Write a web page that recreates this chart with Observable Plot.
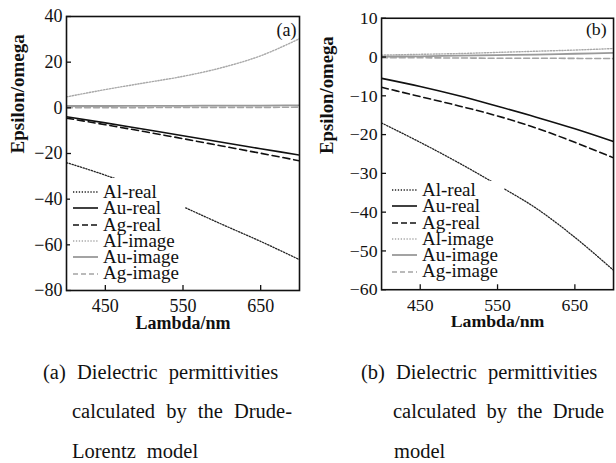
<!DOCTYPE html>
<html>
<head>
<meta charset="utf-8">
<script src="https://cdn.jsdelivr.net/npm/d3@7"></script>
<script src="https://cdn.jsdelivr.net/npm/@observablehq/plot@0.6"></script>
<style>
  html, body { margin: 0; padding: 0; background: #fff; }
  #root { position: relative; width: 616px; height: 463px; overflow: hidden; }
  .panel { position: absolute; top: 0; }
  .legend { position: absolute; background: #fff; font-size: 19px; line-height: 16.3px; color: #111; }
  .legend .row { display: flex; align-items: center; height: 16.3px; white-space: nowrap; }
  .legend svg { flex: none; margin-right: 5px; }
  .cap { position: absolute; font-size: 20.5px; line-height: 20.5px; white-space: nowrap; word-spacing: 6px; color: #111; }
</style>
</head>
<body>
<div id="root"></div>
<script>
// ---- data ----
const lambda = [400, 450, 500, 550, 600, 650, 700];
const xTicks = [450, 550, 650];
const yTicksA = [40, 20, 0, -20, -40, -60, -80];
const yTicksB = [10, 0, -10, -20, -30, -40, -50, -60];
const seriesNames = ["Al-real", "Au-real", "Ag-real", "Al-image", "Au-image", "Ag-image"];

// (a) Drude-Lorentz model
const aAlReal  = [-24, -29.5, -35.8, -43.3, -51, -58.5, -66.5];
const aAuReal  = [-3.9, -6.6, -9.4, -12.2, -15.1, -17.9, -20.7];
const aAgReal  = [-4.5, -7.4, -10.4, -13.5, -16.7, -19.9, -23.2];
const aAlImage = [4.8, 8.0, 10.9, 13.8, 17.6, 22.8, 30.3];
const aAuImage = [0.8, 0.8, 0.9, 0.9, 1.0, 1.0, 1.1];
const aAgImage = [0.1, 0.1, 0.1, 0.2, 0.2, 0.2, 0.3];

// (b) Drude model
const bAlReal  = [-17, -22, -27.3, -33, -39, -46.5, -55];
const bAuReal  = [-5.5, -7.6, -10, -12.7, -15.5, -18.5, -21.8];
const bAgReal  = [-7.8, -10.2, -12.6, -15.2, -18.3, -22, -26];
const bAlImage = [0.5, 0.7, 0.9, 1.2, 1.5, 1.8, 2.2];
const bAuImage = [0.1, 0.2, 0.35, 0.5, 0.65, 0.85, 1.05];
const bAgImage = [-0.2, -0.2, -0.25, -0.3, -0.3, -0.35, -0.4];

// ---- styles ----
const styles = [
  {stroke: "#222", dash: "1.3,1.6", width: 1.3, ldash: "1.3,1.6"},
  {stroke: "#111", dash: null, width: 1.6, ldash: null},
  {stroke: "#111", dash: "7,4", width: 1.6, ldash: "6,3"},
  {stroke: "#a8a8a8", dash: "1.3,1.6", width: 1.4, ldash: "1.3,1.6"},
  {stroke: "#999", dash: null, width: 1.8, ldash: null},
  {stroke: "#a4a4a4", dash: "6,3", width: 1.6, ldash: "5,3"}
];

// pick an installed Times-like serif font
function pickSerif() {
  const cands = ["Liberation Serif", "Tinos", "Times New Roman", "Times", "Nimbus Roman", "Nimbus Roman No9 L", "FreeSerif", "Noto Serif", "DejaVu Serif"];
  const ctx = document.createElement("canvas").getContext("2d");
  const probe = "mmmmmmmmmmwwwwwlliIIQ@#12345";
  for (const f of cands) {
    let found = false;
    for (const base of ["monospace", "sans-serif"]) {
      ctx.font = `40px ${base}`;
      const w0 = ctx.measureText(probe).width;
      ctx.font = `40px "${f}", ${base}`;
      const w1 = ctx.measureText(probe).width;
      if (Math.abs(w1 - w0) > 0.5) { found = true; break; }
    }
    if (found) return `"${f}", serif`;
  }
  return "serif";
}
const font = pickSerif();
const root = document.getElementById("root");
root.style.fontFamily = font;

function panel(opts) {
  const {left, width, height, ml, mr, mt, mb, yDomain, yTicks, series, tag, tagDx, tagDy} = opts;
  const innerW = width - ml - mr;
  const innerH = height - mt - mb;
  const marks = [];
  series.forEach((vals, i) => {
    const s = styles[i];
    marks.push(Plot.line(lambda.map((l, j) => [l, vals[j]]), {
      curve: "monotone-x", stroke: s.stroke, strokeWidth: s.width,
      strokeDasharray: s.dash, clip: true
    }));
  });
  marks.push(
    Plot.tickY(yTicks, {y: d => d, insetRight: innerW - 5, stroke: "#111", strokeWidth: 1.3}),
    Plot.tickX(xTicks, {x: d => d, insetTop: innerH - 5, stroke: "#111", strokeWidth: 1.3}),
    Plot.axisY(yTicks, {anchor: "left", tickSize: 0, tickPadding: 4, label: null, tickFormat: d => d < 0 ? "\u2212" + Math.abs(d) : String(d)}),
    Plot.axisX(xTicks, {anchor: "bottom", tickSize: 0, tickPadding: 9, label: null}),
    Plot.frame({stroke: "#111", strokeWidth: 1.6}),
    Plot.text(["Epsilon/omega"], {frameAnchor: "left", dx: -(ml - 17), rotate: -90, fontWeight: "bold", fontSize: 19, fill: "#111"}),
    Plot.text(["Lambda/nm"], {frameAnchor: "bottom", dy: 38, lineAnchor: "bottom", fontWeight: "bold", fontSize: 18, fill: "#111"}),
    Plot.text([tag], {frameAnchor: "top-right", dx: tagDx, dy: tagDy, lineAnchor: "bottom", textAnchor: "end", fontSize: 18, fill: "#111"})
  );
  const chart = Plot.plot({
    width, height,
    marginLeft: ml, marginRight: mr, marginTop: mt, marginBottom: mb,
    x: {domain: [400, 700]},
    y: {domain: yDomain},
    style: {fontFamily: font, fontSize: "18px", color: "#111", background: "transparent", overflow: "visible"},
    marks
  });
  const wrap = document.createElement("div");
  wrap.className = "panel";
  wrap.style.left = left + "px";
  wrap.appendChild(chart);
  root.appendChild(wrap);
}

panel({left: 0, width: 310, height: 336, ml: 66, mr: 11, mt: 16, mb: 46,
  yDomain: [-80, 40], yTicks: yTicksA,
  series: [aAlReal, aAuReal, aAgReal, aAlImage, aAuImage, aAgImage],
  tag: "(a)", tagDx: -3, tagDy: 19});
panel({left: 310, width: 310, height: 339, ml: 72, mr: 3, mt: 18, mb: 46,
  yDomain: [-60, 10], yTicks: yTicksB,
  series: [bAlReal, bAuReal, bAgReal, bAlImage, bAuImage, bAgImage],
  tag: "(b)", tagDx: -7, tagDy: 17});

function legend(left, top, width, height, padTop, padLeft) {
  const box = document.createElement("div");
  box.className = "legend";
  Object.assign(box.style, {left: left + "px", top: top + "px", width: width + "px", height: height + "px", paddingTop: padTop + "px", paddingLeft: padLeft + "px", boxSizing: "border-box"});
  seriesNames.forEach((name, i) => {
    const s = styles[i];
    const row = document.createElement("div");
    row.className = "row";
    row.innerHTML = `<svg width="25" height="10"><line x1="0" y1="5" x2="25" y2="5" stroke="${s.stroke}" stroke-width="${s.width}" ${s.ldash ? `stroke-dasharray="${s.ldash}"` : ""}/></svg><span>${name}</span>`;
    box.appendChild(row);
  });
  root.appendChild(box);
}
legend(70, 178, 115, 104, 6, 3);
legend(386, 181, 118, 100, 1, 6);

const caps = [
  {t: "(a) Dielectric permittivities", x: 43, y: 362},
  {t: "calculated by the Drude-", x: 72, y: 401, w: 220},
  {t: "Lorentz model", x: 72, y: 441},
  {t: "(b) Dielectric permittivities", x: 361, y: 362},
  {t: "calculated by the Drude", x: 393, y: 401, w: 211},
  {t: "model", x: 394, y: 441}
];
caps.forEach(c => {
  const d = document.createElement("div");
  d.className = "cap";
  d.textContent = c.t;
  d.style.left = c.x + "px";
  d.style.top = c.y + "px";
  if (c.w) { d.style.width = c.w + "px"; d.style.textAlign = "justify"; d.style.textAlignLast = "justify"; d.style.wordSpacing = "0"; }
  root.appendChild(d);
});
</script>
</body>
</html>
